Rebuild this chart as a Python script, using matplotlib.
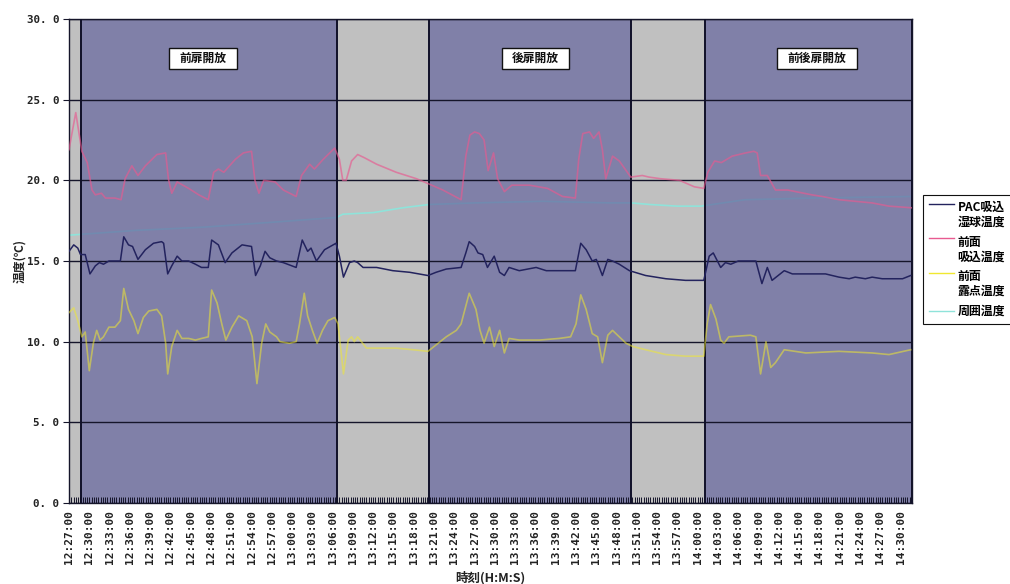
import matplotlib
matplotlib.use('Agg')
import matplotlib.pyplot as plt
from matplotlib.patches import Rectangle
from matplotlib.legend_handler import HandlerLine2D
from matplotlib.ticker import FixedLocator, FuncFormatter
import numpy as np

# ---------------- data (minutes after 12:27:00) ----------------
pac_t = [0, 0.7, 1.3, 1.7, 2.4, 3.1, 3.9, 4.5, 5.1, 5.9, 6.8, 7.6, 8.1, 8.8, 9.4, 10.2, 11.3, 12.5,
         13.7, 14.0, 14.6, 15.2, 16.0, 16.7, 17.7, 18.7, 19.6, 20.6, 21.1, 22.1, 23.1, 24.1, 25.6,
         27.0, 27.6, 28.3, 29.0, 29.7, 30.7, 31.7, 33.6, 34.5, 35.3, 35.8, 36.6, 37.8, 39.5, 40.0,
         40.6, 41.5, 42.2, 42.7, 43.5, 45.5, 47.9, 50.4, 53.1, 54.3, 55.8, 58.0, 58.7, 59.2, 60.0,
         60.5, 61.2, 61.9, 62.9, 63.7, 64.4, 65.1, 66.6, 69.1, 70.6, 72.5, 74.9, 75.7, 76.5, 77.4,
         78.0, 78.9, 79.7, 80.4, 81.4, 82.9, 85.3, 88.3, 91.2, 93.9, 94.7, 95.3, 96.4, 97.1, 97.9,
         99.0, 100.6, 101.6, 102.5, 103.3, 104.0, 105.8, 107.0, 109.0, 111.9, 113.9, 115.4, 116.3,
         117.8, 118.8, 120.3, 121.8, 123.3, 124.5]
pac_v = [15.6, 16.0, 15.8, 15.4, 15.4, 14.2, 14.7, 14.9, 14.8, 15.0, 15.0, 15.0, 16.5, 16.0, 15.9,
         15.1, 15.7, 16.1, 16.2, 16.1, 14.2, 14.7, 15.3, 15.0, 15.0, 14.8, 14.6, 14.6, 16.3, 16.0,
         14.9, 15.5, 16.0, 15.9, 14.1, 14.7, 15.6, 15.2, 15.0, 14.9, 14.6, 16.3, 15.6, 15.8, 15.0,
         15.7, 16.1, 15.3, 14.0, 14.9, 15.0, 14.9, 14.6, 14.6, 14.4, 14.3, 14.1, 14.3, 14.5, 14.6,
         15.5, 16.2, 15.9, 15.5, 15.4, 14.6, 15.3, 14.3, 14.1, 14.6, 14.4, 14.6, 14.4, 14.4, 14.4,
         16.1, 15.7, 15.0, 15.1, 14.1, 15.1, 15.0, 14.8, 14.4, 14.1, 13.9, 13.8, 13.8, 15.3, 15.5,
         14.6, 14.9, 14.8, 15.0, 15.0, 15.0, 13.6, 14.6, 13.8, 14.4, 14.2, 14.2, 14.2, 14.0, 13.9,
         14.0, 13.9, 14.0, 13.9, 13.9, 13.9, 14.1]

front_t = [0, 1.0, 1.9, 2.7, 3.4, 3.9, 4.8, 5.4, 6.8, 7.7, 8.3, 9.3, 10.2, 11.3, 13.0, 14.3, 14.7,
           15.2, 16.0, 17.7, 19.2, 20.6, 21.4, 22.1, 22.9, 24.6, 25.8, 27.0, 27.5, 28.1, 28.8, 30.5,
           31.7, 33.6, 34.4, 35.6, 36.3, 37.6, 39.3, 40.0, 40.5, 41.0, 41.8, 42.7, 43.7, 45.5, 48.4,
           51.4, 53.1, 55.3, 58.0, 58.7, 59.3, 60.0, 60.7, 61.4, 62.0, 62.8, 63.4, 64.4, 65.5, 68.1,
           70.8, 73.0, 74.9, 75.4, 76.0, 77.0, 77.6, 78.4, 78.9, 79.4, 80.4, 81.4, 83.1, 84.8, 85.8,
           87.5, 90.3, 92.5, 93.9, 94.5, 95.5, 96.5, 98.1, 100.1, 101.3, 101.8, 102.3, 103.3, 104.5,
           106.3, 109.9, 111.4, 113.9, 116.3, 118.8, 121.3, 124.6]
front_v = [21.9, 24.2, 21.8, 21.1, 19.4, 19.1, 19.2, 18.9, 18.9, 18.8, 20.1, 20.9, 20.3, 20.9, 21.6,
           21.7, 20.1, 19.2, 19.9, 19.5, 19.1, 18.8, 20.5, 20.7, 20.5, 21.3, 21.7, 21.8, 20.0, 19.2,
           20.0, 19.9, 19.4, 19.0, 20.3, 21.0, 20.7, 21.3, 22.0, 21.3, 20.0, 20.0, 21.2, 21.6, 21.4,
           21.0, 20.5, 20.1, 19.8, 19.4, 18.8, 21.5, 22.8, 23.0, 22.9, 22.5, 20.6, 21.7, 20.1, 19.3,
           19.7, 19.7, 19.5, 19.0, 18.9, 21.3, 22.9, 23.0, 22.6, 23.0, 21.9, 20.1, 21.5, 21.2, 20.2,
           20.3, 20.2, 20.1, 20.0, 19.6, 19.5, 20.5, 21.2, 21.1, 21.5, 21.7, 21.8, 21.7, 20.3, 20.3,
           19.4, 19.4, 19.1, 19.0, 18.8, 18.7, 18.6, 18.4, 18.3]

dew_t = [0, 0.7, 1.3, 1.9, 2.4, 3.0, 3.6, 4.1, 4.6, 5.1, 5.9, 6.8, 7.6, 8.1, 8.8, 9.6, 10.2, 11.0,
         11.8, 13.0, 13.7, 14.3, 14.6, 15.2, 16.0, 16.7, 17.7, 18.7, 19.6, 20.6, 21.1, 21.9, 22.6,
         23.2, 24.1, 25.1, 26.3, 27.1, 27.8, 28.5, 29.1, 29.7, 30.7, 31.2, 32.6, 33.6, 34.1, 34.8,
         35.3, 36.0, 36.7, 37.5, 38.3, 39.3, 39.8, 40.0, 40.6, 41.3, 41.8, 42.2, 42.7, 44.0, 45.9,
         48.4, 50.9, 53.1, 54.3, 55.8, 57.3, 58.0, 59.2, 60.2, 60.8, 61.4, 62.2, 62.9, 63.7, 64.4,
         65.1, 66.6, 69.6, 72.5, 74.2, 75.0, 75.7, 76.5, 77.4, 78.2, 78.9, 79.7, 80.4, 81.4, 82.4,
         83.4, 85.3, 88.3, 91.2, 93.9, 94.4, 94.9, 95.7, 96.4, 96.9, 97.6, 100.8, 101.6, 102.3,
         103.1, 103.8, 104.5, 105.8, 109.0, 113.9, 118.8, 121.3, 124.5]
dew_v = [11.8, 12.1, 11.3, 10.3, 10.6, 8.2, 9.9, 10.7, 10.1, 10.3, 10.9, 10.9, 11.3, 13.3, 12.0,
         11.3, 10.5, 11.5, 11.9, 12.0, 11.6, 9.9, 8.0, 9.7, 10.7, 10.2, 10.2, 10.1, 10.2, 10.3,
         13.2, 12.4, 11.1, 10.1, 10.9, 11.6, 11.3, 10.3, 7.4, 9.9, 11.1, 10.6, 10.3, 10.0, 9.9,
         10.0, 11.1, 13.0, 11.6, 10.7, 9.9, 10.7, 11.3, 11.5, 11.1, 10.3, 8.0, 10.1, 10.3, 10.0,
         10.3, 9.6, 9.6, 9.6, 9.5, 9.4, 9.8, 10.3, 10.7, 11.1, 13.0, 12.0, 10.7, 9.9, 10.9, 9.7,
         10.7, 9.3, 10.2, 10.1, 10.1, 10.2, 10.3, 11.1, 12.9, 12.0, 10.5, 10.3, 8.7, 10.4, 10.7,
         10.3, 9.9, 9.7, 9.5, 9.2, 9.1, 9.1, 11.1, 12.3, 11.4, 10.1, 9.9, 10.3, 10.4, 10.3, 8.0,
         10.0, 8.4, 8.7, 9.5, 9.3, 9.4, 9.3, 9.2, 9.5]

amb_t = [0, 10, 20, 30, 39.6, 40.5, 45, 49.4, 53.2, 60, 70, 80, 83.2, 86, 90, 93.5, 100, 110, 124.7]
amb_v = [16.6, 16.9, 17.1, 17.4, 17.7, 17.9, 18.0, 18.3, 18.5, 18.6, 18.7, 18.6, 18.6, 18.5, 18.4,
         18.4, 18.8, 18.9, 19.0]

# door-open periods (minutes after 12:27:00) and their labels
open_start = [1.75, 53.2, 94.1]
open_end = [39.6, 83.2, 124.7]
open_labels = ['前扉開放', '後扉開放', '前後扉開放']

series_labels = ['PAC吸込\n湿球温度', '前面\n吸込温度', '前面\n露点温度', '周囲温度']

start_h, start_m = 12, 27
tick_minutes = list(range(0, 124, 3))
tick_labels = [f"{(start_h * 60 + start_m + m) // 60}:{(start_h * 60 + start_m + m) % 60:02d}:00"
               for m in tick_minutes]

# ---------------- figure ----------------
CJK = ['Noto Sans CJK JP', 'DejaVu Sans']
MONO = ['DejaVu Sans Mono']
W, H = 1010, 584
fig = plt.figure(figsize=(W / 100, H / 100), dpi=100)
L, R, T, B = 69, 912, 19, 503
ax = fig.add_axes([L / W, 1 - B / H, (R - L) / W, (B - T) / H])
ax.set_facecolor('#c0c0c0')
ax.set_xlim(0, 124.7)
ax.set_ylim(0, 30)

# ambient temperature (beneath the overlay)
l_amb, = ax.plot(amb_t, amb_v, color='#8fe3da', lw=1.2, zorder=1.5)

# door-open overlays
for s, e in zip(open_start, open_end):
    ax.axvspan(s, e, facecolor='#65659e', alpha=0.7, edgecolor='none', zorder=2)
    for xv in (s, e):
        ax.axvline(xv, color='#101028', lw=1.4, zorder=2.6)

l_front, = ax.plot(front_t, front_v, color='#e85a90', alpha=0.65, lw=1.2, zorder=3)
l_dew, = ax.plot(dew_t, dew_v, color='#f0e830', alpha=0.55, lw=1.2, zorder=3)
l_pac, = ax.plot(pac_t, pac_v, color='#23235e', lw=1.1, zorder=4)

# grid
ax.set_axisbelow(False)
ax.set_yticks(np.arange(0, 31, 5))
ax.yaxis.grid(True, color='#15152a', lw=1.0)
ax.xaxis.grid(False)
for sp in ax.spines.values():
    sp.set_color('#15152a')
    sp.set_linewidth(1.0)

ax.yaxis.set_major_formatter(FuncFormatter(lambda v, p: f"{v:.1f}".replace('.', '. ')))
ax.tick_params(axis='y', direction='out', length=4, width=0.8, pad=3, colors='#15152a',
               labelcolor='#222222')
for lab in ax.get_yticklabels():
    lab.set_family(MONO)
    lab.set_fontweight('bold')
    lab.set_fontsize(7.8)

ax.xaxis.set_major_locator(FixedLocator(tick_minutes))
ax.set_xticklabels(tick_labels, rotation=90, family=MONO, fontweight='bold', fontsize=8,
                   color='#222222')
ax.xaxis.set_minor_locator(FixedLocator(np.arange(0, 124.7, 1 / 3)))
ax.tick_params(axis='x', which='both', direction='in', length=4, width=0.7, colors='#15152a',
               labelcolor='#222222', pad=5)

ax.set_xlabel('時刻(H:M:S)', family=CJK, fontweight='bold', fontsize=9, color='#222222')
ax.xaxis.set_label_coords(0.5, -(578 - B) / (B - T))
ax.xaxis.label.set_va('center')
ax.set_ylabel('温度(℃)', family=CJK, fontweight='bold', fontsize=8.5, color='#222222')
ax.yaxis.set_label_coords((20 - L) / (R - L), 0.5)
ax.yaxis.label.set_va('center')

# period labels
boxes = [(14.8, 24.9), (64.0, 73.9), (104.7, 116.5)]
for (x0, x1), txt in zip(boxes, open_labels):
    ax.add_patch(Rectangle((x0, 26.9), x1 - x0, 1.3, facecolor='white', edgecolor='#111111',
                           lw=1.0, zorder=6))
    ax.text((x0 + x1) / 2, 27.55, txt, ha='center', va='center', family=CJK,
            fontweight='bold', fontsize=8.5, color='#111111', zorder=7)


class TopLineHandler(HandlerLine2D):
    def __init__(self, shift=0.0, **kw):
        super().__init__(**kw)
        self.shift = shift

    def create_artists(self, legend, orig_handle, xdescent, ydescent, width, height,
                       fontsize, trans):
        arts = super().create_artists(legend, orig_handle, xdescent, ydescent, width, height,
                                      fontsize, trans)
        for a in arts:
            a.set_ydata(np.asarray(a.get_ydata()) + self.shift * fontsize)
        return arts


handles = [l_pac, l_front, l_dew, l_amb]
hmap = {l_pac: TopLineHandler(1.0), l_front: TopLineHandler(1.0), l_dew: TopLineHandler(1.0),
        l_amb: TopLineHandler(0.0)}
leg = ax.legend(handles, series_labels, handler_map=hmap, loc='upper left',
                bbox_to_anchor=(923 / W, 1 - 195 / H), bbox_transform=fig.transFigure,
                borderaxespad=0, prop={'family': CJK, 'weight': 'bold', 'size': 8.6},
                fancybox=False, framealpha=1, edgecolor='#111111', handlelength=2.1,
                handletextpad=0.3, labelspacing=0.55, borderpad=0.5)
leg.get_frame().set_linewidth(0.8)
for lh in leg.get_lines():
    lh.set_alpha(1.0)
    lh.set_linewidth(1.0)

fig.savefig('out.png', dpi=100)
